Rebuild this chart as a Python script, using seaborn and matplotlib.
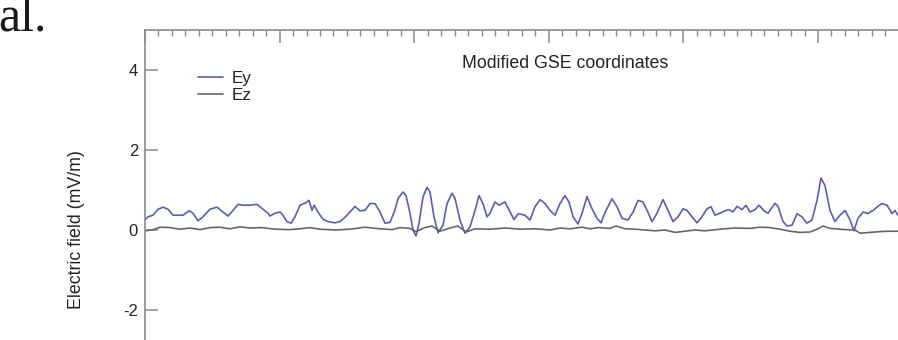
import matplotlib
matplotlib.use("Agg")
import matplotlib.pyplot as plt
from matplotlib.ticker import MultipleLocator
import seaborn as sns

# Ey trace (time units: 10 per major top tick)
t_ey = [0.0, 0.22, 0.59, 0.97, 1.34, 1.71, 2.08, 2.45, 2.82, 3.27, 3.57, 3.94,
        4.31, 4.83, 5.35, 5.79, 6.17, 6.54, 6.91, 7.28, 7.80, 8.32, 8.69, 9.14,
        9.29, 9.66, 10.03, 10.25, 10.55, 10.85, 11.14, 11.52, 11.89, 12.18, 12.41,
        12.56, 12.85, 13.22, 13.60, 14.12, 14.49, 14.86, 15.23, 15.60, 15.97,
        16.34, 16.72, 17.09, 17.46, 17.83, 18.20, 18.57, 18.80, 19.17, 19.39,
        19.69, 19.91, 20.13, 20.36, 20.65, 20.95, 21.17, 21.47, 21.77, 22.14,
        22.44, 22.81, 23.03, 23.40, 23.77, 24.15, 24.52, 24.81, 25.11, 25.41,
        25.63, 26.00, 26.30, 26.75, 27.12, 27.41, 27.71, 27.86, 28.23, 28.60,
        28.97, 29.35, 29.72, 30.09, 30.46, 30.83, 31.20, 31.50, 31.80, 32.17,
        32.47, 32.84, 33.14, 33.58, 33.88, 34.25, 34.70, 35.07, 35.44, 35.88,
        36.26, 36.63, 37.00, 37.30, 37.67, 38.04, 38.48, 38.86, 39.23, 39.60,
        39.97, 40.27, 40.64, 41.01, 41.38, 41.75, 42.05, 42.35, 42.72, 43.09,
        43.39, 43.68, 43.98, 44.35, 44.65, 44.95, 45.32, 45.62, 45.99, 46.29,
        46.58, 46.81, 47.03, 47.40, 47.70, 48.07, 48.44, 48.81, 49.18, 49.55,
        49.93, 50.22, 50.52, 50.89, 51.26, 51.63, 52.01, 52.38, 52.67, 52.97,
        53.34, 53.71, 54.08, 54.46, 54.75, 55.13, 55.50, 55.72, 55.94, 56.3]
ey = [0.25, 0.33, 0.37, 0.52, 0.57, 0.52, 0.37, 0.37, 0.37, 0.48, 0.42, 0.23,
      0.33, 0.52, 0.57, 0.45, 0.35, 0.49, 0.64, 0.62, 0.62, 0.64, 0.54, 0.42,
      0.35, 0.42, 0.45, 0.37, 0.21, 0.17, 0.33, 0.62, 0.67, 0.74, 0.49,
      0.62, 0.45, 0.27, 0.21, 0.18, 0.21, 0.32, 0.45, 0.59, 0.48,
      0.49, 0.66, 0.66, 0.45, 0.17, 0.19, 0.50, 0.79, 0.95, 0.86,
      0.42, 0.00, -0.15, 0.17, 0.82, 1.07, 0.95, 0.33, -0.07, 0.12,
      0.66, 0.92, 0.79, 0.25, -0.08, 0.08, 0.49, 0.86, 0.66, 0.33,
      0.42, 0.70, 0.62, 0.70, 0.45, 0.26, 0.40, 0.40, 0.37, 0.25,
      0.58, 0.76, 0.66, 0.49, 0.37, 0.66, 0.86, 0.70, 0.33, 0.15,
      0.42, 0.84, 0.58, 0.29, 0.18, 0.49, 0.78, 0.58, 0.29, 0.25,
      0.45, 0.74, 0.70, 0.49, 0.21, 0.42, 0.76, 0.49, 0.21, 0.33,
      0.53, 0.49, 0.33, 0.18, 0.33, 0.53, 0.58, 0.37, 0.42, 0.48,
      0.51, 0.45, 0.59, 0.51, 0.62, 0.45, 0.51, 0.62, 0.48, 0.42,
      0.56, 0.67, 0.59, 0.21, 0.10, 0.12, 0.41, 0.33, 0.17, 0.25,
      0.74, 1.30, 1.11, 0.49, 0.21, 0.37, 0.49, 0.25, -0.02, 0.29,
      0.45, 0.41, 0.49, 0.59, 0.66, 0.62, 0.41, 0.49, 0.37, 0.45]

# Ez trace
t_ez = [0.0, 0.52, 1.11, 1.86, 2.60, 3.34, 4.09, 4.83, 5.57, 6.32, 7.06, 7.80,
        8.69, 9.66, 10.77, 11.52, 12.26, 13.00, 14.12, 15.23, 16.34, 17.46,
        18.35, 18.94, 19.69, 20.13, 20.80, 21.32, 21.92, 22.66, 23.25, 23.85,
        24.52, 25.63, 26.75, 27.86, 28.97, 30.09, 30.83, 31.58, 32.47, 33.06,
        33.66, 34.55, 34.99, 35.66, 36.40, 37.15, 37.89, 38.63, 39.38, 40.12,
        40.86, 41.60, 42.72, 43.83, 44.95, 45.69, 46.43, 47.18, 47.92, 48.66,
        49.41, 50.00, 50.37, 50.89, 52.01, 52.75, 53.12, 53.86, 54.61, 55.35,
        55.94, 56.3]
ez = [-0.02, 0.00, 0.07, 0.06, 0.02, 0.05, 0.01, 0.06, 0.07, 0.03, 0.08, 0.05,
      0.06, 0.02, 0.01, 0.03, 0.06, 0.02, 0.00, 0.02, 0.07, 0.03,
      0.01, 0.06, 0.04, -0.04, 0.06, 0.10, -0.03, 0.05, 0.10, -0.05,
      0.03, 0.02, 0.05, 0.02, 0.03, 0.00, 0.05, 0.03, 0.07, 0.03,
      0.06, 0.04, 0.10, 0.03, 0.02, 0.00, -0.02, 0.00, -0.06, -0.03,
      0.00, -0.02, 0.02, 0.05, 0.04, 0.07, 0.06, 0.02, -0.03, -0.06,
      -0.05, 0.03, 0.10, 0.04, 0.01, 0.00, -0.08, -0.06, -0.04, -0.03,
      -0.03, -0.03]

y_ticks = [-4, -2, 0, 2, 4]

sns.set_style("ticks")
plt.rcParams['font.family'] = ['Liberation Sans', 'DejaVu Sans']

fig = plt.figure(figsize=(8.98, 3.40), dpi=100)
# axes run past the right and bottom edge of the picture (it is a crop)
ax = fig.add_axes([145 / 898, 1 - 430 / 340, 807.6 / 898, 400 / 340])

sns.lineplot(x=t_ey, y=ey, ax=ax, color="#5a5cb6", lw=1.2, label="Ey")
sns.lineplot(x=t_ez, y=ez, ax=ax, color="#676767", lw=1.2, label="Ez")

ax.set_xlim(0, 60)
ax.set_ylim(-5, 5)

spine_col = "#8a8a8a"
for side in ["left", "top"]:
    ax.spines[side].set_color(spine_col)
    ax.spines[side].set_linewidth(1.2)
ax.spines["right"].set_visible(False)
ax.spines["bottom"].set_visible(False)

ax.set_yticks(y_ticks)
ax.set_yticklabels([str(v) for v in y_ticks])
ax.tick_params(axis="y", direction="in", length=9.5, width=1.1, color=spine_col,
               labelsize=12, labelcolor="#222222", pad=5)

ax.xaxis.tick_top()
ax.xaxis.set_major_locator(MultipleLocator(10))
ax.xaxis.set_minor_locator(MultipleLocator(1))
ax.tick_params(axis="x", which="major", direction="in", length=9, width=1.1,
               color=spine_col, labeltop=False, labelbottom=False)
ax.tick_params(axis="x", which="minor", direction="in", length=4.5, width=1.0,
               color=spine_col)

ax.set_xlabel("")
ax.set_ylabel("Electric field (mV/m)", fontsize=12.8, color="#222222")
ax.yaxis.set_label_coords(-0.074, 0.5)

leg = ax.legend(loc="upper left", bbox_to_anchor=(198 / 898, 1 - 71 / 340),
                bbox_transform=fig.transFigure, frameon=False, borderpad=0,
                fontsize=12.3, handlelength=1.45, handletextpad=0.5,
                labelspacing=0.12, borderaxespad=0)
for txt in leg.get_texts():
    txt.set_color("#222222")

fig.text(565 / 898, 1 - 63 / 340, "Modified GSE coordinates", ha="center",
         va="center", fontsize=12.8, color="#222222")

# fragment of the page text above the figure
fig.text(-2 / 898, 1 - 31 / 340, "al.", family=["Liberation Serif", "DejaVu Serif"],
         fontsize=36, color="#1a1a1a", ha="left", va="baseline")

fig.savefig("out.png", dpi=100)
